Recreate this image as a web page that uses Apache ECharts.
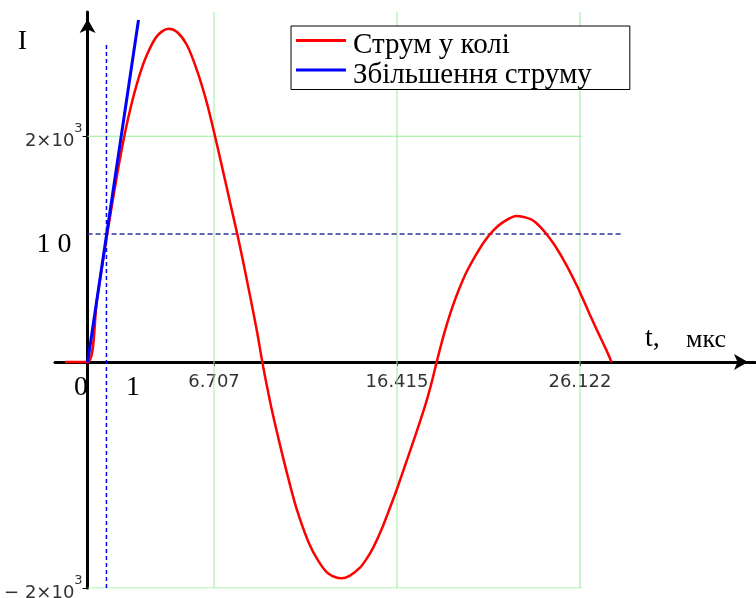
<!DOCTYPE html>
<html><head><meta charset="utf-8">
<script src="https://cdn.jsdelivr.net/npm/echarts@6/dist/echarts.min.js"></script>
<style>html,body{margin:0;padding:0;background:#fff}#c{width:756px;height:598px}</style>
</head><body><div id="c"></div>
<script>
// ---- data ----
const seriesNames = ['Струм у колі', 'Збільшення струму'];
const redT = [-1.2, 0, 0.5, 1.0, 1.54, 1.9, 2.25, 2.69, 3.13, 3.67, 4.28, 4.73, 5.26, 5.79, 6.32, 6.76, 7.2, 7.55, 7.94, 8.3, 8.65, 9.0, 9.27,
  9.5, 9.77, 10.21, 10.65, 11.09, 11.71, 12.24, 12.77, 13.48, 13.92, 14.45, 14.81, 15.16, 15.6, 15.95, 16.4, 16.75, 17.37, 17.9, 18.2, 18.52,
  18.79, 19.08, 19.35, 19.67, 20.11, 20.55, 21.08, 21.52, 22.05, 22.76, 23.47, 23.82, 24.27, 24.8, 25.42, 25.95, 26.21, 26.65, 27.09, 27.54, 27.8];
const redI = [0, 0, 555, 1095, 1635, 1960, 2230, 2505, 2714, 2884, 2952, 2925, 2810, 2590, 2300, 2000, 1680, 1420, 1134, 850, 560, 260, 0,
  -200, -420, -735, -1030, -1300, -1590, -1760, -1872, -1914, -1890, -1820, -1740, -1640, -1480, -1330, -1130, -960, -660, -390, -215, 0,
  175, 345, 485, 630, 800, 935, 1075, 1165, 1240, 1294, 1268, 1230, 1150, 1030, 855, 680, 585, 420, 260, 100, 0];
const blueT = [0, 2.7];
const blueI = [0, 3029];
const markerT = 1;          // vertical dashed line
const markerTopI = 2826;
const markerI = 1134;       // horizontal dashed line
const markerEndT = 28.4;
const xTickValues = [6.707, 16.415, 26.122];
const xTickLabels = ['6.707', '16.415', '26.122'];
const yTickValues = [-2000, 2000];
const yTickLabels = ['− 2×10', '2×10'];
const yTickExp = '3';
const gridXValues = [6.707, 16.415, 26.122];
const gridYValues = [2000, -2000];
const gridYEndT = 26.23;
const xMin = -1.73, xMax = 35.41, yMin = -2000, yMax = 3100;

// ---- build ----
const W = 756, H = 598, G = {left: 55, right: 1, top: 12, bottom: 10};
const plotW = W - G.left - G.right, plotH = H - G.top - G.bottom;
const zeroXoffset = -(0 - xMin) / (xMax - xMin) * plotW;          // y axis sits at t = 0
const zeroYoffset = -(0 - yMin) / (yMax - yMin) * plotH;          // x axis sits at I = 0
const zip = (a, b) => a.map((v, i) => [v, b[i]]);
const green = '#99ee99';
const gridSeries = [];
gridXValues.forEach(g => gridSeries.push({type: 'line', data: [[g, yMin], [g, yMax]], symbol: 'none', silent: true, z: 1,
  lineStyle: {color: green, width: 1}}));
gridYValues.forEach(g => gridSeries.push({type: 'line', data: [[0, g], [gridYEndT, g]], symbol: 'none', silent: true, z: 1,
  lineStyle: {color: green, width: 1}}));

const serif = '"Liberation Serif", "Times New Roman", serif';
const chart = echarts.init(document.getElementById('c'), null, {renderer: 'canvas'});
chart.setOption({
  animation: false,
  backgroundColor: '#fff',
  grid: Object.assign({containLabel: false, outerBoundsMode: 'none'}, G),
  xAxis: {
    type: 'value', min: xMin, max: xMax, position: 'bottom', offset: zeroYoffset,
    axisLine: {onZero: false, lineStyle: {color: '#000', width: 3}, symbol: ['none', 'arrow'], symbolSize: [12, 14], symbolOffset: [0, -7]},
    axisTick: {show: true, customValues: xTickValues, length: 4, lineStyle: {color: '#000', width: 1}},
    axisLabel: {customValues: xTickValues, margin: 11, fontFamily: '"DejaVu Sans", sans-serif', fontSize: 18, color: '#333',
      formatter: v => xTickLabels[xTickValues.indexOf(v)]},
    splitLine: {show: false}
  },
  yAxis: {
    type: 'value', min: yMin, max: yMax, position: 'left', offset: zeroXoffset,
    axisLine: {onZero: false, lineStyle: {color: '#000', width: 3}, symbol: ['none', 'arrow'], symbolSize: [12, 14], symbolOffset: [0, -7]},
    axisTick: {show: true, customValues: yTickValues, length: 5, lineStyle: {color: '#000', width: 1}},
    axisLabel: {customValues: yTickValues, margin: 5,
      formatter: v => '{n|' + yTickLabels[yTickValues.indexOf(v)] + '}{s|' + yTickExp + '}',
      rich: {
        n: {fontFamily: '"DejaVu Sans", sans-serif', fontSize: 18, color: '#333', verticalAlign: 'bottom'},
        s: {fontFamily: '"DejaVu Sans", sans-serif', fontSize: 13, color: '#333', verticalAlign: 'top', padding: [0, 0, 15, 0]}
      }},
    splitLine: {show: false}
  },
  legend: {
    left: 291, top: 26, orient: 'vertical', itemWidth: 50, itemHeight: 13, itemGap: 0.5,
    icon: 'path://M0,0H50V3H0ZM0,13H0.01V13.01H0Z',
    padding: [5, 38, 0, 5], backgroundColor: '#fff', borderColor: '#000', borderWidth: 1, selectedMode: false,
    itemStyle: {borderWidth: 0},
    textStyle: {fontFamily: serif, fontSize: 29, color: '#000', lineHeight: 29, padding: [0, 0, 0, 2]},
    data: seriesNames
  },
  graphic: [
    {type: 'text', x: 22.5, y: 42, style: {text: 'I', font: '28px ' + serif, fill: '#000', align: 'center', verticalAlign: 'middle'}},
    {type: 'text', x: 54, y: 244.5, style: {text: '1 0', font: '28px ' + serif, fill: '#000', align: 'center', verticalAlign: 'middle'}},
    {type: 'text', x: 81, y: 388, style: {text: '0', font: '28px ' + serif, fill: '#000', align: 'center', verticalAlign: 'middle'}},
    {type: 'text', x: 133, y: 388, style: {text: '1', font: '28px ' + serif, fill: '#000', align: 'center', verticalAlign: 'middle'}},
    {type: 'text', x: 645, y: 338.5, style: {text: 't,', font: '28px ' + serif, fill: '#000', align: 'left', verticalAlign: 'middle'}},
    {type: 'text', x: 686, y: 340, style: {text: 'мкс', font: '26px ' + serif, fill: '#000', align: 'left', verticalAlign: 'middle'}},
    {type: 'rect', z: 100, shape: {x: 400, y: 90.6, width: 178, height: 6}, style: {fill: '#fff'}},
    {type: 'rect', z: 100, shape: {x: 582, y: 90.6, width: 48, height: 6}, style: {fill: '#fff'}}
  ],
  series: gridSeries.concat([
    {type: 'line', name: 'marker-v', data: [[markerT, yMin], [markerT, markerTopI]], symbol: 'none', silent: true, z: 2,
      lineStyle: {color: '#0000ff', width: 1.5, type: [4, 3]}},
    {type: 'line', name: 'marker-h', data: [[0, markerI], [markerEndT, markerI]], symbol: 'none', silent: true, z: 2,
      lineStyle: {color: '#333399', width: 1.5, type: [5, 3]}},
    {type: 'line', name: seriesNames[0], data: zip(redT, redI), symbol: 'none', smooth: 0.3, z: 3,
      color: '#ff0000', lineStyle: {color: '#ff0000', width: 2.5}},
    {type: 'line', name: seriesNames[1], data: zip(blueT, blueI), symbol: 'none', z: 4,
      color: '#0000ff', lineStyle: {color: '#0000ff', width: 3}}
  ])
});
</script></body></html>
